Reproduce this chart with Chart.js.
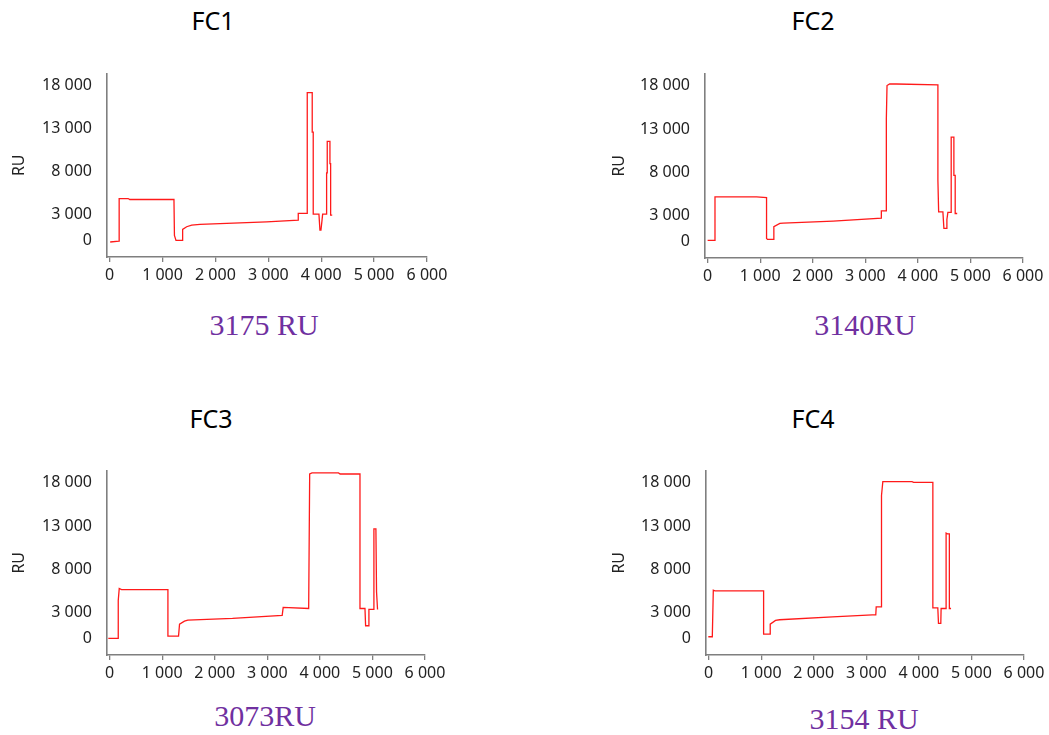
<!DOCTYPE html>
<html>
<head>
<meta charset="utf-8">
<script src="https://cdn.jsdelivr.net/npm/chart.js@4.4.1/dist/chart.umd.min.js"></script>
<style>
html, body { margin: 0; padding: 0; background: #fff; }
body { width: 1049px; height: 735px; position: relative; overflow: hidden; }
.box { position: absolute; }
.ttl { position: absolute; transform: translate(-50%, -50%); font: 25px 'Noto Sans', sans-serif; color: #000; line-height: 1; white-space: nowrap; }
.cap { position: absolute; transform: translate(-50%, -50%); font: 30px 'Liberation Serif', serif; color: #7030a0; line-height: 1; white-space: nowrap; }
</style>
</head>
<body>

<div class="ttl" style="left:213px;top:20px">FC1</div>
<div class="ttl" style="left:813px;top:20px">FC2</div>
<div class="ttl" style="left:211px;top:418px">FC3</div>
<div class="ttl" style="left:813px;top:418px">FC4</div>

<div class="box" id="b1" style="left:0px;top:57px;width:457px;height:240px"><canvas id="c1"></canvas></div>
<div class="box" id="b2" style="left:600px;top:57px;width:453px;height:241px"><canvas id="c2"></canvas></div>
<div class="box" id="b3" style="left:0px;top:454px;width:455px;height:241px"><canvas id="c3"></canvas></div>
<div class="box" id="b4" style="left:600px;top:454px;width:454px;height:241px"><canvas id="c4"></canvas></div>

<div class="cap" style="left:264px;top:325px">3175 RU</div>
<div class="cap" style="left:865px;top:325px">3140RU</div>
<div class="cap" style="left:265px;top:716px">3073RU</div>
<div class="cap" style="left:864px;top:719px">3154 RU</div>

<script>
// axis ticks (time in s, response in RU)
const xTicks = [0, 1000, 2000, 3000, 4000, 5000, 6000];
const yTicks = [0, 3000, 8000, 13000, 18000];

// sensorgrams
const fc1X = [10, 177, 180, 350, 380, 1216, 1225, 1254, 1380, 1380, 1456, 1551, 1708, 2968, 3566, 3566, 3736, 3736, 3830, 3830, 3849, 3849, 3957, 3976, 3995, 4014, 4027, 4102, 4102, 4114, 4114, 4165, 4165, 4178, 4178, 4208];
const fc1Y = [-160, -50, 4890, 4890, 4780, 4780, 600, 30, 30, 1300, 1613, 1805, 1883, 2190, 2385, 3156, 3156, 17200, 17200, 12600, 12600, 3080, 3080, 1230, 1230, 2300, 3080, 3080, 7860, 7860, 11530, 11530, 8950, 8950, 2960, 2960];

const fc2X = [0, 140, 140, 931, 1121, 1121, 1140, 1260, 1260, 1374, 1437, 2387, 3305, 3305, 3400, 3400, 3413, 3463, 3590, 4381, 4381, 4395, 4476, 4495, 4540, 4552, 4571, 4634, 4634, 4685, 4685, 4710, 4710, 4748];
const fc2Y = [130, 130, 5160, 5160, 5080, 360, 250, 250, 1710, 2090, 2130, 2360, 2700, 3550, 3550, 14170, 18020, 18200, 18200, 18090, 7080, 3430, 3430, 1520, 1520, 2550, 3360, 3360, 12070, 12070, 7650, 7650, 3240, 3240];

const fc3X = [-25, 164, 164, 183, 227, 1109, 1109, 1311, 1330, 1424, 1487, 2338, 3283, 3302, 3787, 3806, 3850, 4354, 4385, 4763, 4763, 4858, 4870, 4921, 4933, 5015, 5028, 5066, 5078, 5097];
const fc3Y = [20, 20, 4430, 5780, 5660, 5660, 290, 290, 1670, 2010, 2130, 2320, 2670, 3590, 3470, 19010, 19130, 19130, 19010, 19010, 3470, 3470, 1480, 1480, 3360, 3360, 12680, 12680, 5390, 3360];

const fc4X = [-6, 70, 89, 120, 1046, 1046, 1172, 1172, 1273, 1349, 2357, 3113, 3180, 3188, 3289, 3289, 3314, 3869, 3900, 4266, 4266, 4360, 4373, 4417, 4423, 4518, 4518, 4543, 4580, 4580, 4612];
const fc4Y = [210, 210, 5580, 5510, 5510, 520, 520, 1670, 2090, 2170, 2510, 2740, 2740, 3660, 3660, 16520, 18130, 18130, 18050, 18050, 3550, 3550, 1750, 1750, 3470, 3470, 12180, 12100, 12100, 3470, 3470];

const X_MIN = -50, X_MAX = 6000;
const Y_MIN = -1900, Y_MAX = 19400;

function fmt(v) {
    return String(v).replace(/\B(?=(\d{3})+(?!\d))/g, ' ');
}

function pts(xs, ys) {
    return xs.map(function(x, i) { return { x: x, y: ys[i] }; });
}

function drawPanel(id, xs, ys, yWidth) {
    new Chart(document.getElementById(id), {
        type: 'line',
        data: {
            datasets: [{
                data: pts(xs, ys),
                borderColor: '#ff1a1a',
                borderWidth: 1.3,
                pointRadius: 0,
                tension: 0,
                fill: false
            }]
        },
        options: {
            responsive: true,
            maintainAspectRatio: false,
            animation: false,
            layout: { padding: { top: 2, right: 30, left: 0, bottom: 0 } },
            plugins: { legend: { display: false }, tooltip: { enabled: false } },
            scales: {
                x: {
                    type: 'linear',
                    min: X_MIN, max: X_MAX,
                    afterBuildTicks: function(s) { s.ticks = xTicks.map(function(v) { return { value: v }; }); },
                    afterFit: function(s) { s.height = 40; },
                    grid: { display: true, drawOnChartArea: false, drawTicks: true, tickLength: 5, color: '#7f7f7f', lineWidth: 1.3 },
                    border: { display: true, color: '#7f7f7f', width: 1.6 },
                    ticks: { padding: 4, color: '#222', font: { family: "'Noto Sans', sans-serif", size: 16 }, maxRotation: 0, autoSkip: false, callback: function(v) { return fmt(v); } }
                },
                y: {
                    min: Y_MIN, max: Y_MAX,
                    afterBuildTicks: function(s) { s.ticks = yTicks.map(function(v) { return { value: v }; }); },
                    afterFit: function(s) { s.width = yWidth; },
                    grid: { display: false },
                    border: { display: true, color: '#7f7f7f', width: 1.6 },
                    ticks: { padding: 7, color: '#222', font: { family: "'Noto Sans', sans-serif", size: 16 }, callback: function(v) { return fmt(v); } },
                    title: { display: true, text: 'RU', color: '#222', padding: { top: 10, bottom: 0 }, font: { family: "'Noto Sans', sans-serif", size: 16 } }
                }
            }
        }
    });
}

drawPanel('c1', fc1X, fc1Y, 107);
drawPanel('c2', fc2X, fc2Y, 105);
drawPanel('c3', fc3X, fc3Y, 107);
drawPanel('c4', fc4X, fc4Y, 106);
</script>
</body>
</html>
